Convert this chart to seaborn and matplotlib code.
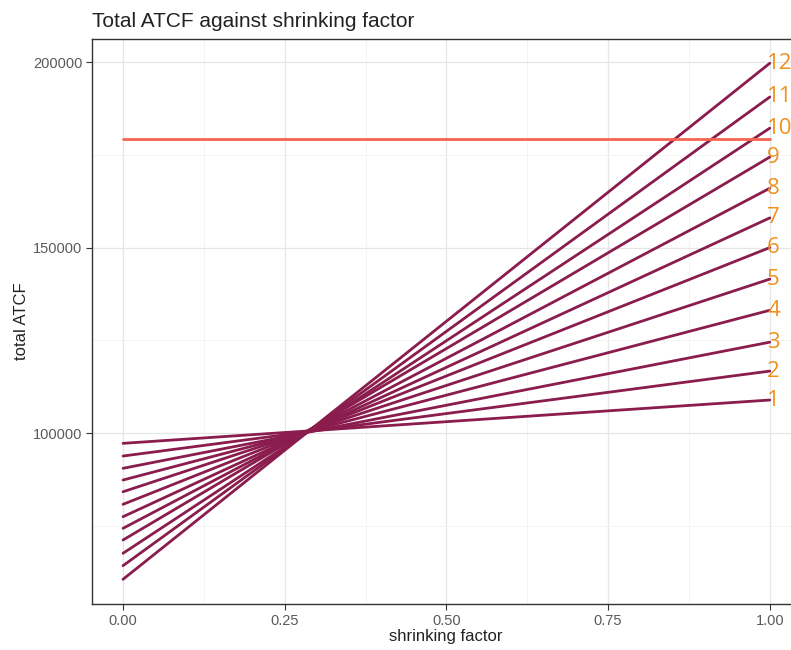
import numpy as np
import pandas as pd
import matplotlib
matplotlib.use("Agg")
import matplotlib.pyplot as plt
import seaborn as sns
from matplotlib.ticker import MultipleLocator

# data
groups = [1, 2, 3, 4, 5, 6, 7, 8, 9, 10, 11, 12]
atcf_at_0 = [97220, 93800, 90490, 87330, 84170, 80780, 77440, 74310, 71160, 67580, 64240, 60570]
atcf_at_1 = [108900, 116700, 124500, 133100, 141500, 150000, 158000, 166000, 174400, 182200, 190600, 199700]
shrink = [0.0, 1.0]
threshold = 179230
x_ticks = [0.0, 0.25, 0.5, 0.75, 1.0]
x_tick_labels = ["0.00", "0.25", "0.50", "0.75", "1.00"]
y_ticks = [100000, 150000, 200000]

rows = []
for g, a, b in zip(groups, atcf_at_0, atcf_at_1):
    rows.append({"group": g, "shrinking factor": shrink[0], "total ATCF": a})
    rows.append({"group": g, "shrinking factor": shrink[1], "total ATCF": b})
df = pd.DataFrame(rows)

sns.set_style("white")
plt.rcParams["font.family"] = ["Liberation Sans", "DejaVu Sans"]

fig = plt.figure(figsize=(7.91, 6.5), dpi=100)
ax = fig.add_axes([0.1163, 0.0708, 1 - 0.1163 + 0.01, 0.869])

line_col = "#8A1C4E"
sns.lineplot(data=df, x="shrinking factor", y="total ATCF", hue="group",
             palette=[line_col] * len(groups), legend=False, linewidth=2.0, ax=ax)

ax.plot(shrink, [threshold, threshold], color="#F8634F", linewidth=2.0, zorder=3)

for g, b in zip(groups, atcf_at_1):
    ax.annotate(str(g), xy=(1.0, b), xytext=(-2, 0), textcoords="offset points",
                ha="left", va="center", color="#F0901E", fontsize=16,
                family=["Open Sans", "DejaVu Sans"], annotation_clip=False)

ax.set_xlim(-0.048, 1.045)
ax.set_ylim(53910, 206200)
ax.set_xticks(x_ticks)
ax.set_xticklabels(x_tick_labels)
ax.set_yticks(y_ticks)
ax.xaxis.set_minor_locator(MultipleLocator(0.125))
ax.yaxis.set_minor_locator(MultipleLocator(25000))
ax.grid(which="major", color="#E6E6E6", linewidth=0.9)
ax.grid(which="minor", color="#F2F2F2", linewidth=0.6)
ax.set_axisbelow(True)
for s in ax.spines.values():
    s.set_color("#333333")
    s.set_linewidth(1.0)
ax.tick_params(axis="both", which="major", length=4, width=0.8, color="#333333",
               labelsize=10.5, labelcolor="#5A5A5A", pad=3, bottom=True, left=True)
ax.tick_params(which="minor", length=0)
ax.set_xlabel("shrinking factor", fontsize=12, color="#222222", labelpad=1)
ax.set_ylabel("total ATCF", fontsize=12, color="#222222", labelpad=3)
ax.set_title("Total ATCF against shrinking factor", loc="left", fontsize=15,
             color="#222222", pad=9)

fig.savefig("out.png", dpi=100)
